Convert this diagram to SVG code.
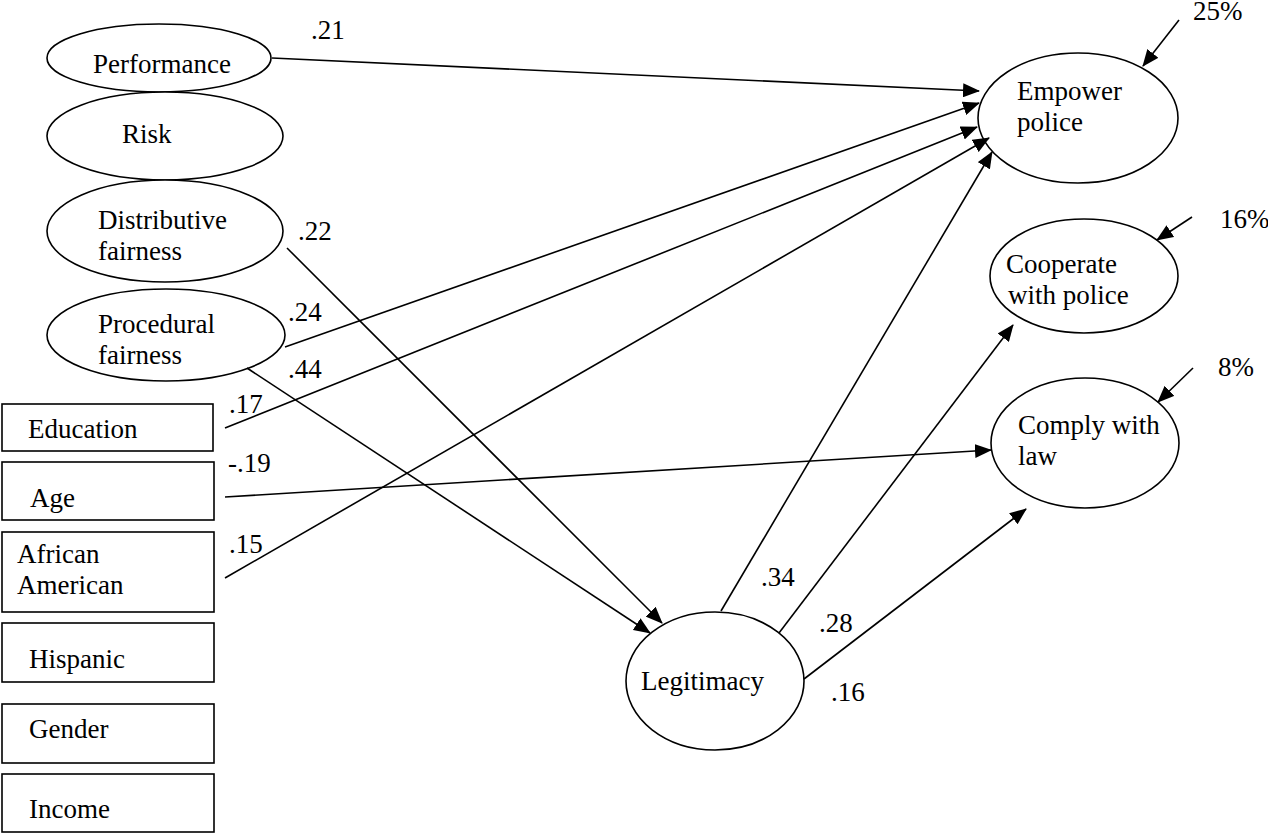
<svg xmlns="http://www.w3.org/2000/svg" width="1268" height="834" viewBox="0 0 1268 834">
<style>
.n{fill:#fff;stroke:#000;stroke-width:1.6}
.t{font-family:"Liberation Serif","Times New Roman",serif;font-size:27px;fill:#000}
.c line{stroke:#000;stroke-width:1.6;marker-end:url(#ah)}
</style>
<defs>
<marker id="ah" markerUnits="userSpaceOnUse" markerWidth="18" markerHeight="14" refX="16" refY="7" orient="auto" viewBox="0 0 18 14">
<path d="M0,0 L17,7 L0,14 Z" fill="#000"/>
</marker>
</defs>
<rect width="1268" height="834" fill="#fff"/>
<g id="performance"><ellipse class="n" cx="159" cy="58" rx="112" ry="34"/><text class="t" x="93" y="73">Performance</text></g>
<g id="risk"><ellipse class="n" cx="165" cy="136" rx="118" ry="44"/><text class="t" x="122" y="143">Risk</text></g>
<g id="distributive"><ellipse class="n" cx="165" cy="231" rx="118" ry="51"/><text class="t" x="98" y="229">Distributive</text><text class="t" x="98" y="260">fairness</text></g>
<g id="procedural"><ellipse class="n" cx="166" cy="335" rx="119" ry="46"/><text class="t" x="98" y="333">Procedural</text><text class="t" x="98" y="364">fairness</text></g>
<g id="education"><rect class="n" x="2" y="404" width="211" height="47"/><text class="t" x="28" y="438">Education</text></g>
<g id="age"><rect class="n" x="2" y="462" width="212" height="58"/><text class="t" x="30" y="507">Age</text></g>
<g id="african-american"><rect class="n" x="2" y="532" width="212" height="80"/><text class="t" x="17" y="563">African</text><text class="t" x="17" y="594">American</text></g>
<g id="hispanic"><rect class="n" x="2" y="623" width="212" height="59"/><text class="t" x="29" y="668">Hispanic</text></g>
<g id="gender"><rect class="n" x="2" y="704" width="212" height="59"/><text class="t" x="29" y="738">Gender</text></g>
<g id="income"><rect class="n" x="2" y="774" width="212" height="58"/><text class="t" x="29" y="818">Income</text></g>
<g id="empower"><ellipse class="n" cx="1078" cy="118" rx="100" ry="65"/><text class="t" x="1017" y="100">Empower</text><text class="t" x="1017" y="131">police</text></g>
<g id="cooperate"><ellipse class="n" cx="1084" cy="276" rx="94" ry="57"/><text class="t" x="1006" y="273">Cooperate</text><text class="t" x="1008" y="304">with police</text></g>
<g id="comply"><ellipse class="n" cx="1085" cy="443" rx="94" ry="65"/><text class="t" x="1018" y="434">Comply with</text><text class="t" x="1018" y="465">law</text></g>
<g id="legitimacy"><ellipse class="n" cx="715" cy="681" rx="89" ry="69"/><text class="t" x="641" y="690">Legitimacy</text></g>
<g class="c" id="connectors">
<line x1="272" y1="58" x2="979" y2="91"/>
<line x1="285" y1="347" x2="979" y2="103"/>
<line x1="225" y1="428" x2="977" y2="127"/>
<line x1="225" y1="578" x2="989" y2="138"/>
<line x1="721" y1="611" x2="992" y2="152"/>
<line x1="287" y1="248" x2="662" y2="623"/>
<line x1="247" y1="368" x2="650" y2="633"/>
<line x1="225" y1="497" x2="991" y2="450"/>
<line x1="779" y1="633" x2="1013" y2="325"/>
<line x1="804" y1="679" x2="1026" y2="509"/>
<line x1="1179" y1="20" x2="1143" y2="66"/>
<line x1="1192" y1="217" x2="1157" y2="240"/>
<line x1="1193" y1="368" x2="1158" y2="402"/>
</g>
<g id="labels">
<text class="t" x="311" y="39">.21</text>
<text class="t" x="298" y="240">.22</text>
<text class="t" x="288" y="321">.24</text>
<text class="t" x="288" y="378">.44</text>
<text class="t" x="229" y="413">.17</text>
<text class="t" x="228" y="472">-.19</text>
<text class="t" x="229" y="553">.15</text>
<text class="t" x="761" y="586">.34</text>
<text class="t" x="819" y="632">.28</text>
<text class="t" x="831" y="701">.16</text>
<text class="t" x="1193" y="20">25%</text>
<text class="t" x="1220" y="228">16%</text>
<text class="t" x="1218" y="376">8%</text>
</g>
</svg>
